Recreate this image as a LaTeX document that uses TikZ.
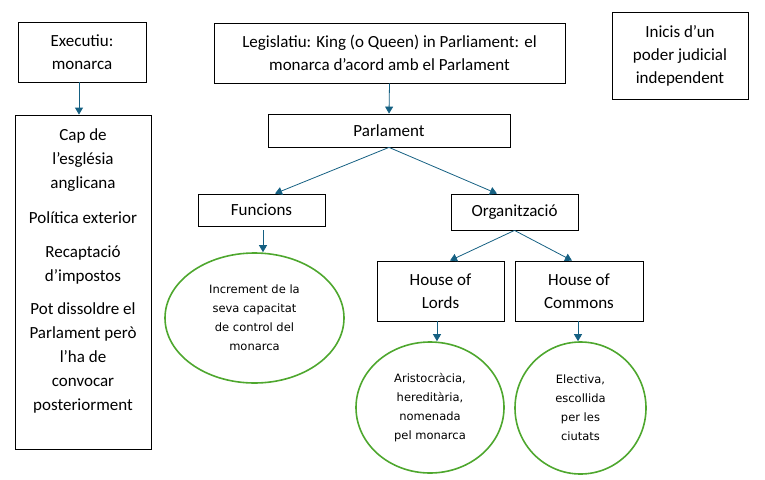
\documentclass[tikz,border=0pt]{standalone}
\usepackage{fontspec}
\setmainfont{Carlito}
\newfontfamily\ovalfont{DejaVu Sans}
\usetikzlibrary{shapes.geometric,arrows.meta}
\definecolor{linkblue}{HTML}{156082}
\definecolor{ovalgreen}{HTML}{4EA72E}
\tikzset{
	box/.style={draw=black, line width=0.8pt, inner sep=0pt, align=center, font=\fontsize{17}{23}\selectfont},
	oval/.style={draw=ovalgreen, line width=1.6pt, ellipse, inner sep=0pt, align=center, font=\ovalfont\fontsize{11.5}{19}\selectfont},
	link/.style={draw=linkblue, line width=0.8pt, -{Triangle[length=7pt,width=8pt]}}
}

\begin{document}
\begin{tikzpicture}[x=1pt, y=-1pt]
		%%%%% START %%%%%
		\useasboundingbox (0, 0) rectangle (765, 479);
		
		% executiu
		\node[box, minimum width=128pt, minimum height=60pt] (exec) at (82, 52) {Executiu:\\monarca};
		\node[box] (cap) at (83, 282) {\parbox[c][334pt][t]{136pt}{\centering\fontsize{17}{24}\selectfont\vspace*{14pt}%
			Cap de\\l'església\\anglicana\\[11pt]
			Política exterior\\[10pt]
			Recaptació\\d'impostos\\[9pt]
			Pot dissoldre el\\Parlament però\\l'ha de\\convocar\\posteriorment}};
		\draw[link] ([xshift=-3pt]exec.south) -- ([xshift=-3pt]exec.south |- cap.north);
		
		% legislatiu
		\node[box, minimum width=351pt, minimum height=60pt] (legis) at (389.5, 53) {Legislatiu: King (o Queen) in Parliament: el\\monarca d'acord amb el Parlament};
		\node[box, minimum width=242pt, minimum height=33pt] (parl) at (389, 130.5) {Parlament};
		\draw[link] (legis.south) -- (parl.north);
		
		% judicial
		\node[box, minimum width=136pt, minimum height=87pt] (judic) at (680, 55.5) {Inicis d'un\\poder judicial\\independent};
		
		\node[box, minimum width=127pt, minimum height=32pt] (func) at (261.5, 210) {Funcions};
		\node[box, minimum width=127pt, minimum height=36pt] (org) at (514.5, 212) {Organització};
		\draw[link] (parl.south) -- ([xshift=13.5pt]func.north);
		\draw[link] (parl.south) -- ([xshift=-17.5pt]org.north);
		
		\node[oval, minimum width=179pt, minimum height=130pt] (incr) at (254.5, 318) {Increment de la\\seva capacitat\\de control del\\monarca};
		\draw[link] ([xshift=1.5pt, yshift=-4pt]func.south) -- ([xshift=1.5pt]func.south |- incr.north);
		
		\node[box, minimum width=127pt, minimum height=60pt] (lords) at (440.5, 291) {House of\\Lords};
		\node[box, minimum width=128pt, minimum height=60pt] (commons) at (579, 291) {House of\\Commons};
		\draw[link] (org.south) -- ([xshift=9.5pt]lords.north);
		\draw[link] (org.south) -- ([xshift=-7pt]commons.north);
		
		\node[oval, minimum width=148pt, minimum height=131pt] (lordsov) at (430, 407.5) {Aristocràcia,\\hereditària,\\nomenada\\pel monarca};
		\node[oval, minimum width=131pt, minimum height=132pt] (commonsov) at (580.5, 408) {Electiva,\\escollida\\per les\\ciutats};
		\draw[link] ([xshift=-3.5pt]lords.south) -- ([xshift=-3.5pt]lords.south |- lordsov.north);
		\draw[link] ([xshift=-1pt]commons.south) -- ([xshift=-1pt]commons.south |- commonsov.north);
		
		%%%%% END %%%%%
\end{tikzpicture}
\end{document}
